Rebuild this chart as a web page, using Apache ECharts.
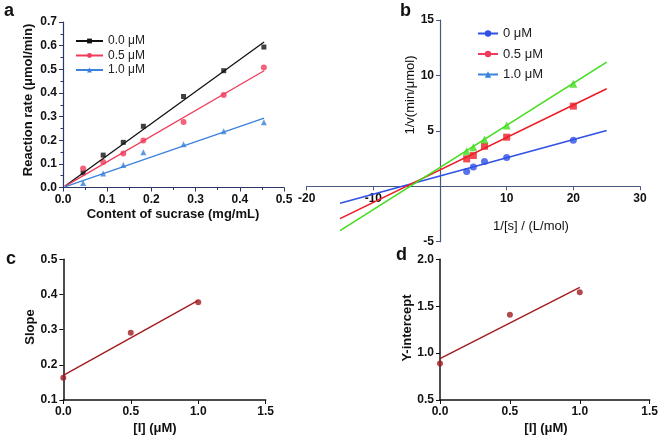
<!DOCTYPE html>
<html><head><meta charset="utf-8">
<script src="https://cdn.jsdelivr.net/npm/echarts@6/dist/echarts.min.js"></script>
<style>html,body{margin:0;padding:0;background:#fff}#c{width:661px;height:437px}</style>
</head><body><div id="c"></div>
<script>
// Panel a
var sucrase = [0.0455, 0.0909, 0.1364, 0.1818, 0.2727, 0.3636, 0.4545];
var rate0 = [0.062, 0.137, 0.191, 0.259, 0.385, 0.494, 0.594];
var rate05 = [0.080, 0.108, 0.144, 0.199, 0.277, 0.391, 0.508];
var rate10 = [0.019, 0.059, 0.095, 0.149, 0.183, 0.238, 0.276];
var fitAX = [0.004, 0.455];
var fitA0 = [0.005, 0.615];
var fitA05 = [0.005, 0.494];
var fitA10 = [0.003, 0.293];
var namesA = ['0.0 μM', '0.5 μM', '1.0 μM'];
// Panel b
var invS = [4, 5, 6.67, 10, 20];
var invV0 = [1.33, 1.75, 2.23, 2.59, 4.16];
var invV05 = [2.47, 2.77, 3.61, 4.43, 7.23];
var invV10 = [3.16, 3.52, 4.22, 5.48, 9.25];
var fitBX = [-15, 25];
var fitB0 = [-1.53, 5.03];
var fitB05 = [-2.92, 8.8];
var fitB10 = [-4.0, 11.2];
var namesB = ['0 μM', '0.5 μM', '1.0 μM'];
// Panels c, d
var conc = [0, 0.5, 1.0];
var slopeVals = [0.163, 0.291, 0.378];
var fitCX = [0, 1.0];
var fitC = [0.170, 0.383];
var yintVals = [0.89, 1.41, 1.65];
var fitD = [0.94, 1.70];

function pairs(xs, ys){ return xs.map(function(x,i){ return [x, ys[i]]; }); }
var F = 'Liberation Sans, Arial, sans-serif';
var navy = '#2c3766';
var bAxis = '#4a5880';
var bBlue = '#3050e6', bRed = '#ee1c25', bGreen = '#44dd1e';
var aBlack = '#111111', aRed = '#f03b5a', aBlue = '#3a82dc';
var dred = '#a01c1f';

function lab(fmtHideZero, dec){
  return {fontFamily:F, fontWeight:'bold', fontSize:12, color:'#111', margin:6,
    formatter:function(v){ if(fmtHideZero && Math.abs(v)<1e-9) return ''; return dec!=null ? v.toFixed(dec) : String(Math.round(v)); }};
}

// panel b geometry (grid in px); axes are shifted onto the zero lines with offset
var gB = {left:306.7, top:20, width:333.3, height:221.7};
var bXmin=-20, bXmax=30, bYmin=-5, bYmax=15;
var offY = -(0 - bXmin) / (bXmax - bXmin) * gB.width;     // move y axis to x=0
var offX = -(0 - bYmin) / (bYmax - bYmin) * gB.height;    // move x axis to y=0

var chart = echarts.init(document.getElementById('c'), null, {renderer:'canvas'});
var option = {
  animation:false,
  backgroundColor:'#fff',
  grid:[
    {left:63, top:22, width:221, height:165.5},
    gB,
    {left:63.3, top:259.3, width:202.4, height:140.7},
    {left:440, top:259.3, width:211.7, height:140.7}
  ],
  xAxis:[
    {gridIndex:0, type:'value', min:0, max:0.5, interval:0.1,
      axisLine:{lineStyle:{color:navy, width:1.2}}, axisTick:{show:true, length:4, lineStyle:{color:navy}},
      minorTick:{show:true, splitNumber:2, length:2.5, lineStyle:{color:navy}},
      splitLine:{show:false}, axisLabel:lab(false,1)},
    {gridIndex:1, type:'value', min:bXmin, max:bXmax, interval:10, position:'bottom', offset:offX,
      axisLine:{onZero:false, lineStyle:{color:bAxis, width:1.2}}, axisTick:{show:true, length:4, lineStyle:{color:bAxis}},
      splitLine:{show:false}, axisLabel:lab(true,null)},
    {gridIndex:2, type:'value', min:0, max:1.5, interval:0.5,
      axisLine:{lineStyle:{color:'#111', width:1.5}}, axisTick:{show:true, length:4, lineStyle:{color:'#111'}},
      splitLine:{show:false}, axisLabel:lab(false,1)},
    {gridIndex:3, type:'value', min:0, max:1.5, interval:0.5,
      axisLine:{lineStyle:{color:'#111', width:1.5}}, axisTick:{show:true, length:4, lineStyle:{color:'#111'}},
      splitLine:{show:false}, axisLabel:lab(false,1)}
  ],
  yAxis:[
    {gridIndex:0, type:'value', min:0, max:0.7, interval:0.1,
      axisLine:{show:true, lineStyle:{color:navy, width:1.2}}, axisTick:{show:true, length:4, lineStyle:{color:navy}},
      minorTick:{show:true, splitNumber:2, length:2.5, lineStyle:{color:navy}},
      splitLine:{show:false}, axisLabel:lab(false,1)},
    {gridIndex:1, type:'value', min:bYmin, max:bYmax, interval:5, position:'left', offset:offY,
      axisLine:{show:true, onZero:false, lineStyle:{color:bAxis, width:1.2}}, axisTick:{show:true, length:4, lineStyle:{color:bAxis}},
      splitLine:{show:false}, axisLabel:lab(true,null)},
    {gridIndex:2, type:'value', min:0.1, max:0.5, interval:0.1,
      axisLine:{show:true, lineStyle:{color:'#111', width:1.5}}, axisTick:{show:true, length:4, lineStyle:{color:'#111'}},
      splitLine:{show:false}, axisLabel:lab(false,1)},
    {gridIndex:3, type:'value', min:0.5, max:2.0, interval:0.5,
      axisLine:{show:true, lineStyle:{color:'#111', width:1.5}}, axisTick:{show:true, length:4, lineStyle:{color:'#111'}},
      splitLine:{show:false}, axisLabel:lab(false,1)}
  ],
  legend:[
    {data:namesA, orient:'vertical', left:75, top:35, itemWidth:27, itemHeight:6, itemGap:2.5,
      textStyle:{fontFamily:F, fontSize:12, color:'#222'}, selectedMode:false, padding:0},
    {data:namesB, orient:'vertical', left:477, top:27, itemWidth:20, itemHeight:8, itemGap:7.5,
      textStyle:{fontFamily:F, fontSize:13, color:'#222'}, selectedMode:false, padding:0}
  ],
  graphic:[
    {type:'text', left:4, top:2, style:{text:'a', font:'bold 18px '+F, fill:'#111'}},
    {type:'text', left:400, top:2, style:{text:'b', font:'bold 18px '+F, fill:'#111'}},
    {type:'text', left:6, top:250, style:{text:'c', font:'bold 18px '+F, fill:'#111'}},
    {type:'text', left:396, top:246, style:{text:'d', font:'bold 18px '+F, fill:'#111'}},
    {type:'text', x:28, y:100, rotation:Math.PI/2, style:{text:'Reaction rate (μmol/min)', font:'bold 13px '+F, fill:'#111', textAlign:'center', textVerticalAlign:'middle'}},
    {type:'text', x:173, y:214, style:{text:'Content of sucrase (mg/mL)', font:'bold 13px '+F, fill:'#111', textAlign:'center', textVerticalAlign:'middle'}},
    {type:'text', x:410, y:95, rotation:Math.PI/2, style:{text:'1/v(min/μmol)', font:'13px '+F, fill:'#111', textAlign:'center', textVerticalAlign:'middle'}},
    {type:'text', x:531, y:226, style:{text:'1/[s] / (L/mol)', font:'13px '+F, fill:'#111', textAlign:'center', textVerticalAlign:'middle'}},
    {type:'text', x:30, y:327, rotation:Math.PI/2, style:{text:'Slope', font:'bold 13px '+F, fill:'#111', textAlign:'center', textVerticalAlign:'middle'}},
    {type:'text', x:155, y:428, style:{text:'[I] (μM)', font:'bold 13px '+F, fill:'#111', textAlign:'center', textVerticalAlign:'middle'}},
    {type:'text', x:407, y:328, rotation:Math.PI/2, style:{text:'Y-intercept', font:'bold 13px '+F, fill:'#111', textAlign:'center', textVerticalAlign:'middle'}},
    {type:'text', x:546, y:428, style:{text:'[I] (μM)', font:'bold 13px '+F, fill:'#111', textAlign:'center', textVerticalAlign:'middle'}}
  ],
  series:[
    // panel a fit lines (carry legend)
    {name:namesA[0], type:'line', xAxisIndex:0, yAxisIndex:0, data:pairs(fitAX, fitA0), showSymbol:false, symbol:'rect', symbolSize:5, color:aBlack, lineStyle:{width:1.3, color:aBlack}},
    {name:namesA[1], type:'line', xAxisIndex:0, yAxisIndex:0, data:pairs(fitAX, fitA05), showSymbol:false, symbol:'circle', symbolSize:5, color:aRed, lineStyle:{width:1.3, color:aRed}},
    {name:namesA[2], type:'line', xAxisIndex:0, yAxisIndex:0, data:pairs(fitAX, fitA10), showSymbol:false, symbol:'triangle', symbolSize:6, color:aBlue, lineStyle:{width:1.3, color:aBlue}},
    {name:namesA[0], type:'scatter', xAxisIndex:0, yAxisIndex:0, data:pairs(sucrase, rate0), symbol:'rect', symbolSize:5, itemStyle:{color:aBlack}},
    {name:namesA[1], type:'scatter', xAxisIndex:0, yAxisIndex:0, data:pairs(sucrase, rate05), symbol:'circle', symbolSize:6, itemStyle:{color:aRed}},
    {name:namesA[2], type:'scatter', xAxisIndex:0, yAxisIndex:0, data:pairs(sucrase, rate10), symbol:'triangle', symbolSize:6, itemStyle:{color:aBlue}},
    // panel b
    {name:namesB[0], type:'line', xAxisIndex:1, yAxisIndex:1, data:pairs(fitBX, fitB0), showSymbol:false, symbol:'circle', symbolSize:8, color:bBlue, lineStyle:{width:1.6, color:bBlue}},
    {name:namesB[1], type:'line', xAxisIndex:1, yAxisIndex:1, data:pairs(fitBX, fitB05), showSymbol:false, symbol:'rect', symbolSize:8, color:bRed, lineStyle:{width:1.6, color:bRed}},
    {name:namesB[2], type:'line', xAxisIndex:1, yAxisIndex:1, data:pairs(fitBX, fitB10), showSymbol:false, symbol:'triangle', symbolSize:8, color:bGreen, lineStyle:{width:1.6, color:bGreen}},
    {name:namesB[0], type:'scatter', xAxisIndex:1, yAxisIndex:1, data:pairs(invS, invV0), symbol:'circle', symbolSize:7, itemStyle:{color:bBlue}},
    {name:namesB[1], type:'scatter', xAxisIndex:1, yAxisIndex:1, data:pairs(invS, invV05), symbol:'rect', symbolSize:7, itemStyle:{color:bRed}},
    {name:namesB[2], type:'scatter', xAxisIndex:1, yAxisIndex:1, data:pairs(invS, invV10), symbol:'triangle', symbolSize:8, itemStyle:{color:bGreen}},
    // panel c
    {type:'line', xAxisIndex:2, yAxisIndex:2, data:pairs(fitCX, fitC), showSymbol:false, lineStyle:{width:1.4, color:dred}},
    {type:'scatter', xAxisIndex:2, yAxisIndex:2, data:pairs(conc, slopeVals), symbol:'circle', symbolSize:6, itemStyle:{color:dred}},
    // panel d
    {type:'line', xAxisIndex:3, yAxisIndex:3, data:pairs(fitCX, fitD), showSymbol:false, lineStyle:{width:1.4, color:dred}},
    {type:'scatter', xAxisIndex:3, yAxisIndex:3, data:pairs(conc, yintVals), symbol:'circle', symbolSize:6, itemStyle:{color:dred}}
  ]
};
chart.setOption(option);
</script>
</body></html>
